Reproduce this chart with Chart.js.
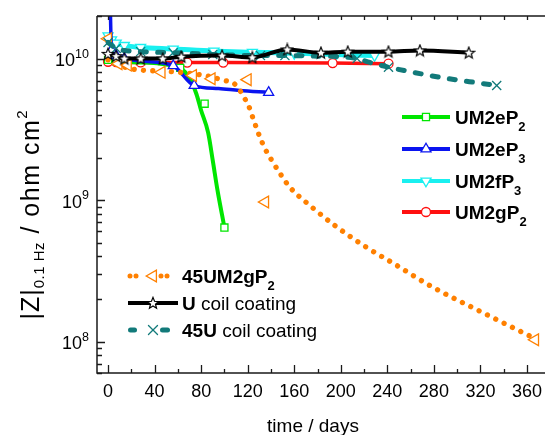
<!DOCTYPE html>
<html>
<head>
<meta charset="utf-8">
<script src="https://cdn.jsdelivr.net/npm/chart.js@4.4.0/dist/chart.umd.min.js"></script>
<style>
html, body { margin: 0; padding: 0; background: #fff; }
canvas { display: block; }
</style>
</head>
<body>
<canvas id="c" width="545" height="435"></canvas>
<script>
// |Z| at 0.1 Hz (ohm cm2) against immersion time (days)
const dayTicks = [0, 40, 80, 120, 160, 200, 240, 280, 320, 360];
const zDecades = [1e8, 1e9, 1e10];

// UM2eP2
const eP2Days = [0, 14, 28, 45, 56, 63, 70, 76, 80, 86, 90, 94, 100];
const eP2Z = [9.8e9, 9.5e9, 9.4e9, 9.2e9, 8.9e9, 8.5e9, 7.3e9, 5.6e9, 4.3e9, 3.0e9, 1.9e9, 1.18e9, 6.4e8];
const eP2MarkDays = [0, 7, 62, 83, 100];
const eP2MarkZ = [9.8e9, 9.6e9, 8.6e9, 4.8e9, 6.4e8];

// UM2eP3
const eP3Days = [1, 3, 7, 14, 28, 56, 74, 95, 113, 138];
const eP3Z = [6e10, 1.15e10, 1.05e10, 1.0e10, 9.6e9, 8.9e9, 6.45e9, 6.15e9, 5.95e9, 5.76e9];
const eP3MarkDays = [3, 7, 14, 56, 74, 138];
const eP3MarkZ = [1.15e10, 1.05e10, 1.0e10, 8.9e9, 6.45e9, 5.76e9];

// UM2fP3
const fP3Days = [0, 3, 7, 14, 28, 56, 91, 124, 160, 196, 229];
const fP3Z = [1.45e10, 1.36e10, 1.29e10, 1.24e10, 1.2e10, 1.17e10, 1.13e10, 1.11e10, 1.09e10, 1.07e10, 1.05e10];

// UM2gP2
const gP2Days = [0, 7, 14, 28, 68, 99, 193, 241];
const gP2Z = [9.5e9, 9.45e9, 9.4e9, 9.4e9, 9.37e9, 9.37e9, 9.3e9, 9.2e9];

// 45UM2gP2: fitted curve and measured points
const g45Days = [0, 7, 19, 53, 83, 100, 108, 113, 117, 121, 125, 130, 135, 140, 147, 156, 176, 195, 221, 247, 278, 317, 364];
const g45Z = [9.8e9, 9.2e9, 8.5e9, 8.1e9, 7.6e9, 7.0e9, 6.7e9, 6.0e9, 5.3e9, 4.6e9, 3.7e9, 2.85e9, 2.3e9, 1.95e9, 1.58e9, 1.24e9, 8.8e8, 6.6e8, 4.7e8, 3.5e8, 2.45e8, 1.68e8, 1.08e8];
const g45MarkDays = [0, 9, 17, 46, 73, 89, 120, 135, 367];
const g45MarkZ = [1.38e10, 9.2e9, 9.0e9, 8.0e9, 7.6e9, 7.2e9, 7.1e9, 9.7e8, 1.03e8];

// U coil coating
const uDays = [0, 7, 14, 28, 47, 63, 98, 124, 154, 183, 206, 241, 268, 310];
const uZ = [1.08e10, 1.04e10, 1.0e10, 1.0e10, 1.0e10, 1.03e10, 1.05e10, 1.02e10, 1.16e10, 1.1e10, 1.12e10, 1.12e10, 1.14e10, 1.1e10];

// 45U coil coating
const u45Days = [0, 3, 7, 14, 28, 56, 90, 131, 154, 180, 200, 214, 225, 241, 262, 293, 320, 334];
const u45Z = [1.3e10, 1.24e10, 1.18e10, 1.14e10, 1.12e10, 1.1e10, 1.07e10, 1.05e10, 1.05e10, 1.04e10, 1.03e10, 1.0e10, 9.4e9, 8.7e9, 8.0e9, 7.2e9, 6.7e9, 6.45e9];
const u45MarkDays = [0, 7, 28, 56, 90, 131, 152, 214, 241, 334];
const u45MarkZ = [1.3e10, 1.18e10, 1.12e10, 1.1e10, 1.07e10, 1.05e10, 1.05e10, 1.0e10, 8.7e9, 6.45e9];

const GREEN = '#00e600', BLUE = '#0a14f0', CYAN = '#19f0f0', RED = '#ff1010',
      ORANGE = '#ff8000', BLACK = '#000000', TEAL = '#127a7a';
const FONT = 'Arial, "Liberation Sans", Helvetica, sans-serif';

function pts(xs, ys) { return xs.map((d, i) => ({ x: d, y: ys[i] })); }

// five-pointed open star
function starImage(color) {
  const c = document.createElement('canvas');
  c.width = c.height = 14;
  const g = c.getContext('2d');
  const R = 6, r = 2.6;
  g.beginPath();
  for (let i = 0; i < 10; i++) {
    const a = -Math.PI / 2 + i * Math.PI / 5, rr = i % 2 ? r : R;
    g.lineTo(7 + rr * Math.cos(a), 7.4 + rr * Math.sin(a));
  }
  g.closePath();
  g.fillStyle = '#fff'; g.fill();
  g.strokeStyle = color; g.lineWidth = 1.2; g.stroke();
  return c;
}
const STAR = starImage(BLACK);

const marks = {
  eP2: { pointStyle: 'rect', radius: 5, rotation: 0, color: GREEN },
  eP3: { pointStyle: 'triangle', radius: 5.8, rotation: 0, color: BLUE },
  fP3: { pointStyle: 'triangle', radius: 5.8, rotation: 180, color: CYAN },
  gP2: { pointStyle: 'circle', radius: 4.5, rotation: 0, color: RED },
  g45: { pointStyle: 'triangle', radius: 6.8, rotation: 270, color: ORANGE },
  u:   { pointStyle: STAR, radius: 6, rotation: 0, color: BLACK },
  u45: { pointStyle: 'crossRot', radius: 6.4, rotation: 0, color: TEAL }
};

function curve(data, color, width, order, extra) {
  return Object.assign({
    type: 'line', data, borderColor: color, borderWidth: width, pointRadius: 0,
    pointHoverRadius: 0, cubicInterpolationMode: 'monotone', fill: false,
    borderCapStyle: 'round', borderJoinStyle: 'round', order
  }, extra || {});
}
function markers(data, m, order) {
  return {
    type: 'line', data, showLine: false, pointStyle: m.pointStyle, pointRadius: m.radius,
    pointHoverRadius: m.radius, pointRotation: m.rotation, pointBorderColor: m.color,
    pointBackgroundColor: '#fff', pointBorderWidth: 1.3, order
  };
}

const datasets = [
  curve(pts(uDays, uZ), BLACK, 4, 1),
  markers(pts(uDays, uZ), marks.u, 0.5),
  curve(pts(u45Days, u45Z), TEAL, 5, 3, { borderDash: [6, 11.3], borderCapStyle: 'round' }),
  markers(pts(u45MarkDays, u45MarkZ), marks.u45, 2.5),
  curve(pts(g45Days, g45Z), ORANGE, 5.3, 5, { borderDash: [0.01, 9.3], borderCapStyle: 'round' }),
  markers(pts(g45MarkDays, g45MarkZ), marks.g45, 4.5),
  curve(pts(eP3Days, eP3Z), BLUE, 3.5, 7),
  markers(pts(eP3MarkDays, eP3MarkZ), marks.eP3, 6.5),
  curve(pts(eP2Days, eP2Z), GREEN, 4, 9),
  markers(pts(eP2MarkDays, eP2MarkZ), marks.eP2, 8.5),
  curve(pts(gP2Days, gP2Z), RED, 3.5, 11),
  markers(pts(gP2Days, gP2Z), marks.gP2, 10.5),
  curve(pts(fP3Days, fP3Z), CYAN, 5, 13),
  markers(pts(fP3Days, fP3Z), marks.fP3, 12.5)
];

// axes, tick labels, axis titles and the two legend blocks
function drawRich(ctx, parts, x, y, align) {
  let w = 0;
  parts.forEach(p => {
    ctx.font = p.font; ctx.letterSpacing = p.ls || '0px';
    p.w = ctx.measureText(p.t).width; w += p.w;
  });
  let cx = align === 'right' ? x - w : align === 'center' ? x - w / 2 : x;
  parts.forEach(p => {
    ctx.font = p.font; ctx.letterSpacing = p.ls || '0px';
    ctx.fillText(p.t, cx, y + (p.dy || 0)); cx += p.w;
  });
  ctx.letterSpacing = '0px';
}

const legendRight = [
  { m: marks.eP2, y: 117, parts: [['UM2eP', 0], ['2', 1]] },
  { m: marks.eP3, y: 149, parts: [['UM2eP', 0], ['3', 1]] },
  { m: marks.fP3, y: 181, parts: [['UM2fP', 0], ['3', 1]] },
  { m: marks.gP2, y: 212, parts: [['UM2gP', 0], ['2', 1]] }
];
const legendLeft = [
  { m: marks.g45, y: 276, dots: true, parts: [['45UM2gP', 0], ['2', 1]] },
  { m: marks.u, y: 303, parts: [['U', 0], [' coil coating', 2]] },
  { m: marks.u45, y: 330, dashes: true, parts: [['45U', 0], [' coil coating', 2]] }
];

function legendEntry(ctx, e, x0, x1, tx) {
  const xm = (x0 + x1) / 2;
  ctx.save();
  ctx.strokeStyle = e.m.color;
  ctx.lineCap = 'round';
  if (e.dots) {
    ctx.lineWidth = 5;
    ctx.setLineDash([0.01, 6]);
    ctx.beginPath(); ctx.moveTo(x0 + 2, e.y); ctx.lineTo(x0 + 8.1, e.y); ctx.stroke();
    ctx.beginPath(); ctx.moveTo(xm + 8, e.y); ctx.lineTo(xm + 14.1, e.y); ctx.stroke();
  } else if (e.dashes) {
    ctx.lineWidth = 5;
    ctx.beginPath(); ctx.moveTo(x0 + 2.5, e.y); ctx.lineTo(x0 + 6.5, e.y); ctx.stroke();
    ctx.beginPath(); ctx.moveTo(xm + 9.5, e.y); ctx.lineTo(xm + 14.5, e.y); ctx.stroke();
  } else {
    ctx.lineWidth = 4;
    ctx.lineCap = 'butt';
    ctx.beginPath(); ctx.moveTo(x0, e.y); ctx.lineTo(x1, e.y); ctx.stroke();
  }
  ctx.setLineDash([]);
  ctx.fillStyle = '#fff';
  ctx.lineWidth = 1.3;
  Chart.helpers.drawPoint(ctx, { pointStyle: e.m.pointStyle, radius: e.m.radius, rotation: e.m.rotation, borderWidth: 1.3 }, xm, e.y);
  ctx.restore();

  const fonts = ['bold 19px ' + FONT, 'bold 13px ' + FONT, '19px ' + FONT];
  ctx.fillStyle = '#000';
  ctx.textBaseline = 'alphabetic';
  drawRich(ctx, e.parts.map(p => ({ t: p[0], font: fonts[p[1]], dy: p[1] === 1 ? 7 : 0 })), tx, e.y + 7, 'left');
}

const decor = {
  id: 'decor',
  afterDraw(chart) {
    const { ctx, chartArea: a, scales: { x, y } } = chart;
    ctx.save();
    ctx.strokeStyle = '#1a1a1a';
    ctx.lineWidth = 1.5;
    ctx.lineCap = 'butt';
    ctx.beginPath();
    ctx.moveTo(a.left, a.top); ctx.lineTo(a.left, a.bottom); ctx.lineTo(a.right, a.bottom);
    ctx.moveTo(a.left, a.top); ctx.lineTo(a.right, a.top);
    ctx.stroke();

    // ticks point into the plot
    ctx.lineWidth = 1.3;
    ctx.beginPath();
    x.ticks.forEach(t => {
      const px = Math.round(x.getPixelForValue(t.value)) + 0.5;
      ctx.moveTo(px, a.bottom); ctx.lineTo(px, a.bottom - (t.major ? 8 : 4));
      ctx.moveTo(px, a.top); ctx.lineTo(px, a.top + 4);
    });
    y.ticks.forEach(t => {
      const py = Math.round(y.getPixelForValue(t.value)) + 0.5;
      ctx.moveTo(a.left, py); ctx.lineTo(a.left + (t.major ? 8 : 5), py);
    });
    ctx.stroke();

    ctx.fillStyle = '#000';
    ctx.textBaseline = 'alphabetic';
    ctx.textAlign = 'left';
    ctx.font = '18px ' + FONT;
    dayTicks.forEach(d => {
      const s = String(d);
      const w = ctx.measureText(s).width;
      ctx.fillText(s, x.getPixelForValue(d) - w / 2, 397);
    });
    zDecades.forEach(v => {
      const py = y.getPixelForValue(v);
      const e = Math.round(Math.log10(v));
      drawRich(ctx, [
        { t: '10', font: '18px ' + FONT, dy: 0 },
        { t: String(e), font: '12.5px ' + FONT, dy: -8.5 }
      ], 89, py + 7.5, 'right');
    });

    ctx.font = '19px ' + FONT;
    const tw = ctx.measureText('time / days').width;
    ctx.fillText('time / days', 313 - tw / 2, 432);

    ctx.save();
    ctx.translate(39, 215);
    ctx.rotate(-Math.PI / 2);
    drawRich(ctx, [
      { t: '|Z|', font: '25px ' + FONT, dy: 0, ls: '1px' },
      { t: '0.1 Hz', font: '15px ' + FONT, dy: 5, ls: '0.5px' },
      { t: ' / ohm cm', font: '25px ' + FONT, dy: 0, ls: '1.5px' },
      { t: '2', font: '15px ' + FONT, dy: -12 }
    ], 0, 0, 'center');
    ctx.restore();

    legendRight.forEach(e => legendEntry(ctx, e, 402, 450, 455));
    legendLeft.forEach(e => legendEntry(ctx, e, 128, 178, 182));
    ctx.restore();
  }
};

new Chart(document.getElementById('c'), {
  type: 'line',
  data: { datasets },
  options: {
    responsive: false,
    animation: false,
    devicePixelRatio: 1,
    events: [],
    layout: { autoPadding: false, padding: { left: 97, top: 16, right: 0, bottom: 62 } },
    plugins: { legend: { display: false }, tooltip: { enabled: false } },
    scales: {
      x: {
        type: 'linear', min: -9.5, max: 375.5,
        ticks: { display: false },
        grid: { display: false, drawTicks: false },
        border: { display: false },
        afterBuildTicks(scale) {
          const t = [];
          for (let d = 0; d <= 360; d += 20) t.push({ value: d, major: d % 40 === 0 });
          scale.ticks = t;
        }
      },
      y: {
        type: 'logarithmic', min: 6e7, max: 2e10,
        ticks: { display: false },
        grid: { display: false, drawTicks: false },
        border: { display: false },
        afterBuildTicks(scale) {
          const t = [];
          for (let n = 7; n <= 10; n++) {
            for (let k = 1; k <= 9; k++) {
              const v = k * Math.pow(10, n);
              if (v >= scale.min && v <= scale.max) t.push({ value: v, major: k === 1 });
            }
          }
          scale.ticks = t;
        }
      }
    }
  },
  plugins: [decor]
});
</script>
</body>
</html>
